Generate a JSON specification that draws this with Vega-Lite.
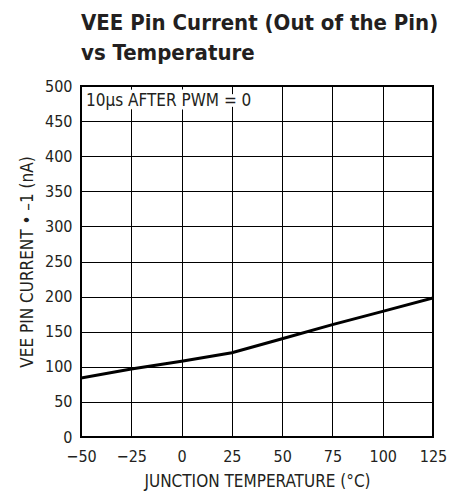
{
  "$schema": "https://vega.github.io/schema/vega-lite/v6.json",
  "width": 352,
  "height": 351,
  "autosize": "none",
  "padding": {"left": 81, "top": 86, "right": 32, "bottom": 60},
  "background": "white",
  "title": {
    "text": ["VEE Pin Current (Out of the Pin)", "vs Temperature"],
    "anchor": "start",
    "frame": "group",
    "font": "DejaVu Sans Condensed, Liberation Sans, sans-serif",
    "fontSize": 22,
    "fontWeight": "bold",
    "color": "#231f20",
    "lineHeight": 30,
    "offset": 13
  },
  "config": {
    "view": {"stroke": "black", "strokeWidth": 2},
    "axis": {
      "grid": true,
      "gridColor": "black",
      "gridOpacity": 1,
      "gridWidth": 1,
      "domain": false,
      "ticks": false,
      "labelOverlap": false,
      "labelFlush": false,
      "labelFont": "DejaVu Sans Condensed, Liberation Sans, sans-serif",
      "labelFontSize": 16,
      "labelColor": "#231f20",
      "titleFont": "DejaVu Sans Condensed, Liberation Sans, sans-serif",
      "titleFontSize": 17,
      "titleFontWeight": "normal",
      "titleColor": "#231f20"
    }
  },
  "encoding": {
    "x": {
      "field": "temp", "type": "quantitative",
      "scale": {"domain": [-50, 125], "nice": false, "zero": false},
      "axis": {"values": [-50, -25, 0, 25, 50, 75, 100, 125], "labelPadding": 11, "title": "JUNCTION TEMPERATURE (°C)", "titlePadding": 9}
    },
    "y": {
      "field": "current", "type": "quantitative",
      "scale": {"domain": [0, 500], "nice": false},
      "axis": {"values": [0, 50, 100, 150, 200, 250, 300, 350, 400, 450, 500], "labelPadding": 9, "title": "VEE PIN CURRENT • –1 (nA)", "titlePadding": 8}
    }
  },
  "layer": [
    {
      "data": {"values": [
        {"temp": -50, "current": 84},
        {"temp": -25, "current": 97},
        {"temp": 0, "current": 108},
        {"temp": 25, "current": 120},
        {"temp": 50, "current": 140},
        {"temp": 75, "current": 160},
        {"temp": 100, "current": 179},
        {"temp": 125, "current": 198}
      ]},
      "mark": {"type": "line", "color": "black", "strokeWidth": 3, "clip": true}
    },
    {
      "data": {"values": [{"temp": -47.5, "current": 479, "label": "10µs AFTER PWM = 0"}]},
      "mark": {"type": "text", "align": "left", "baseline": "middle", "font": "DejaVu Sans Condensed, Liberation Sans, sans-serif", "fontSize": 17, "stroke": "white", "strokeWidth": 7, "strokeJoin": "round", "fill": "white"},
      "encoding": {"text": {"field": "label"}}
    },
    {
      "data": {"values": [{"temp": -47.5, "current": 479, "label": "10µs AFTER PWM = 0"}]},
      "mark": {"type": "text", "align": "left", "baseline": "middle", "font": "DejaVu Sans Condensed, Liberation Sans, sans-serif", "fontSize": 17, "fill": "#231f20"},
      "encoding": {"text": {"field": "label"}}
    }
  ]
}
